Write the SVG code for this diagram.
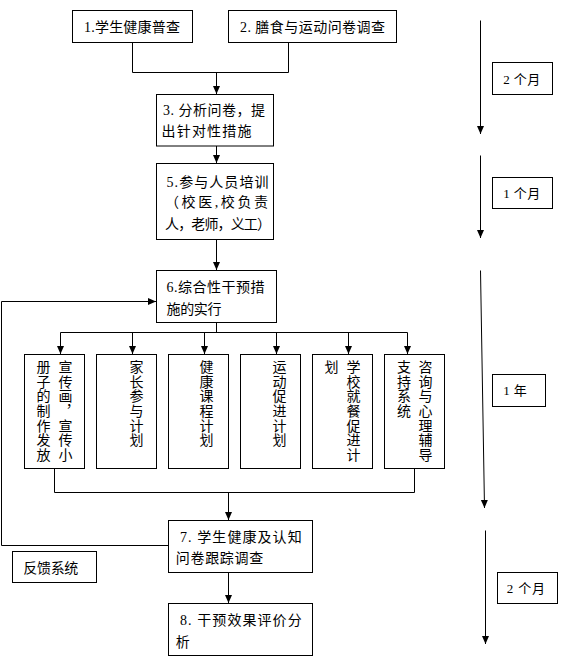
<svg xmlns="http://www.w3.org/2000/svg" width="577" height="666" viewBox="0 0 577 666">
<style>
.box{fill:#fff;stroke:#000;stroke-width:1}
.t{font-family:"Liberation Serif","Noto Sans CJK SC",serif;font-size:14px;fill:#000}
.l{font-family:"Liberation Serif","Noto Sans CJK SC",serif;font-size:13px;fill:#000}
.v{font-family:"Liberation Serif","Noto Sans CJK SC",serif;font-size:14px;fill:#000;writing-mode:vertical-rl;letter-spacing:0.7px}
.c{fill:none;stroke:#000;stroke-width:1}
</style>
<defs>
<marker id="ah" markerUnits="userSpaceOnUse" markerWidth="8" markerHeight="8" refX="8" refY="3.5" orient="auto">
<path d="M0,0 L8,3.5 L0,7 z" fill="#000"/>
</marker>
</defs>
<rect width="577" height="666" fill="#fff"/>
<g id="connectors">
<path class="c" d="M132.5,43 V72.5 H288.5 V43"/>
<path class="c" d="M216.5,72.5 V94" marker-end="url(#ah)"/>
<path class="c" d="M216.5,146 V163" marker-end="url(#ah)"/>
<path class="c" d="M216.5,239.5 V270" marker-end="url(#ah)"/>
<path class="c" d="M168.5,545.5 H1.5 V301.5 H156" marker-end="url(#ah)"/>
<path class="c" d="M216.5,322.5 V332.5 M60.5,332.5 H407.5"/>
<path class="c" d="M60.5,332.5 V354" marker-end="url(#ah)"/>
<path class="c" d="M132.5,332.5 V354" marker-end="url(#ah)"/>
<path class="c" d="M204.5,332.5 V354" marker-end="url(#ah)"/>
<path class="c" d="M276.5,332.5 V354" marker-end="url(#ah)"/>
<path class="c" d="M348.5,332.5 V354" marker-end="url(#ah)"/>
<path class="c" d="M407.5,332.5 V354" marker-end="url(#ah)"/>
<path class="c" d="M54.5,468.5 V492.5 H414.5 V468.5"/>
<path class="c" d="M228.5,492.5 V520" marker-end="url(#ah)"/>
<path class="c" d="M228.5,572.5 V603" marker-end="url(#ah)"/>
<path class="c" d="M480.5,20.5 V134" marker-end="url(#ah)"/>
<path class="c" d="M480.5,155.5 V238" marker-end="url(#ah)"/>
<path class="c" d="M480.5,270.5 L484.5,508" marker-end="url(#ah)"/>
<path class="c" d="M485.5,530.5 V644" marker-end="url(#ah)"/>
</g>
<g id="n1"><rect class="box" x="72.5" y="10.5" width="120" height="32"/><text class="t" x="84" y="32" textLength="96">1.学生健康普查</text></g>
<g id="n2"><rect class="box" x="228.5" y="10.5" width="168" height="32"/><text class="t" x="240" y="32" textLength="145">2. 膳食与运动问卷调查</text></g>
<g id="n3"><rect class="box" x="156.5" y="94.5" width="117" height="51.5"/><text class="t" x="163" y="115" textLength="102">3. 分析问卷，提</text><text class="t" x="161.5" y="136" textLength="90">出针对性措施</text></g>
<g id="n5"><rect class="box" x="156.5" y="163.5" width="117" height="76"/><text class="t" x="166.5" y="187" textLength="102">5.参与人员培训</text><text class="t" x="165" y="207" textLength="103">（校医,校负责</text><text class="t" x="165" y="228.5" textLength="106">人，老师，义工）</text></g>
<g id="n6"><rect class="box" x="156.5" y="270.5" width="120" height="52"/><text class="t" x="166.5" y="292" textLength="98">6.综合性干预措</text><text class="t" x="166.5" y="313.5" textLength="55">施的实行</text></g>
<g id="na"><rect class="box" x="24.5" y="354.5" width="60" height="114"/><text class="v" x="64" y="359.5">宣传画，宣传小</text><text class="v" x="42" y="359.5">册子的制作发放</text></g>
<g id="nb"><rect class="box" x="96.5" y="354.5" width="60" height="114"/><text class="v" x="135" y="359.5">家长参与计划</text></g>
<g id="nc"><rect class="box" x="168.5" y="354.5" width="60" height="114"/><text class="v" x="205" y="359.5">健康课程计划</text></g>
<g id="nd"><rect class="box" x="240.5" y="354.5" width="60" height="114"/><text class="v" x="278" y="359.5">运动促进计划</text></g>
<g id="ne"><rect class="box" x="312.5" y="354.5" width="60" height="114"/><text class="v" x="352" y="359.5">学校就餐促进计</text><text class="v" x="330" y="359.5">划</text></g>
<g id="nf"><rect class="box" x="384.5" y="354.5" width="60" height="114"/><text class="v" x="424" y="359.5">咨询与心理辅导</text><text class="v" x="402.5" y="359.5">支持系统</text></g>
<g id="n7"><rect class="box" x="168.5" y="520.5" width="144" height="52"/><text class="t" x="180" y="541.7" textLength="121.7">7. 学生健康及认知</text><text class="t" x="175.7" y="563.3" textLength="87.6">问卷跟踪调查</text></g>
<g id="n8"><rect class="box" x="168.5" y="603.5" width="144" height="52"/><text class="t" x="180" y="625" textLength="121.7">8. 干预效果评价分</text><text class="t" x="175.7" y="646.7">析</text></g>
<g id="fb"><rect class="box" x="12.5" y="551.5" width="84" height="31"/><text class="t" x="23.3" y="573.3" textLength="55">反馈系统</text></g>
<g id="r1"><rect class="box" x="492.5" y="62.5" width="60" height="32"/><text class="l" x="503.3" y="83.5" textLength="37">2 个月</text></g>
<g id="r2"><rect class="box" x="492.5" y="177.5" width="60" height="31"/><text class="l" x="503.3" y="197.5" textLength="37">1 个月</text></g>
<g id="r3"><rect class="box" x="492.5" y="374.5" width="53" height="32"/><text class="l" x="503.3" y="394.5" textLength="23.4">1 年</text></g>
<g id="r4"><rect class="box" x="497.5" y="572.5" width="60" height="31"/><text class="l" x="506.7" y="593" textLength="38.3">2 个月</text></g>
</svg>
